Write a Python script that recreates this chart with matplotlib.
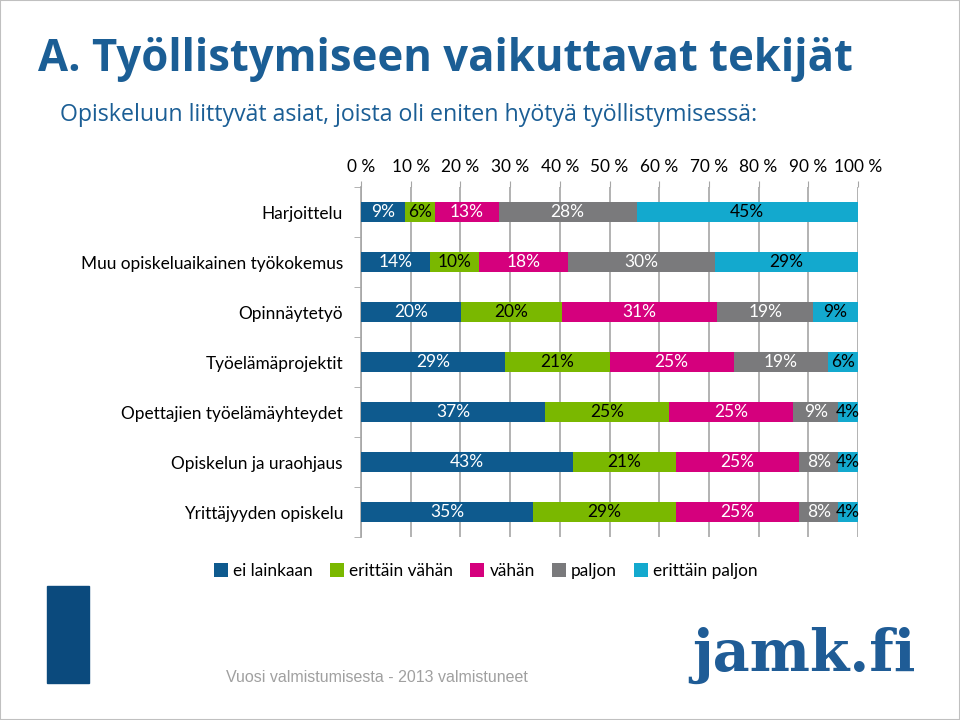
import numpy as np
import matplotlib
matplotlib.use("Agg")
import matplotlib.pyplot as plt
from matplotlib.patches import Rectangle

# categories, top to bottom
categories = ["Harjoittelu", "Muu opiskeluaikainen työkokemus", "Opinnäytetyö",
              "Työelämäprojektit", "Opettajien työelämäyhteydet",
              "Opiskelun ja uraohjaus", "Yrittäjyyden opiskelu"]
series = ["ei lainkaan", "erittäin vähän", "vähän", "paljon", "erittäin paljon"]

ei_lainkaan = [9, 14, 20, 29, 37, 43, 35]
erittain_vahan = [6, 10, 20, 21, 25, 21, 29]
vahan = [13, 18, 31, 25, 25, 25, 25]
paljon = [28, 30, 19, 19, 9, 8, 8]
erittain_paljon = [45, 29, 9, 6, 4, 4, 4]

xticks = [0, 10, 20, 30, 40, 50, 60, 70, 80, 90, 100]

colors = ["#0E5A8E", "#7AB800", "#D5007D", "#7A7A7C", "#13A9CE"]
text_colors = ["white", "black", "white", "white", "black"]

plt.rcParams['font.family'] = ['Lato', 'DejaVu Sans']

fig = plt.figure(figsize=(9.6, 7.2), dpi=100)
ax = fig.add_axes([361 / 960, 1 - 537 / 720, 497 / 960, 350 / 720])

data = np.array([ei_lainkaan, erittain_vahan, vahan, paljon, erittain_paljon], dtype=float)
shares = data / data.sum(axis=0) * 100
y = np.arange(len(categories))
left = np.zeros(len(categories))
for i, name in enumerate(series):
    ax.barh(y, shares[i], left=left, height=0.4, color=colors[i], label=name, zorder=3)
    for j in range(len(categories)):
        ax.text(left[j] + shares[i][j] / 2, y[j], "%d%%" % data[i][j],
                ha="center", va="center", fontsize=12.5, color=text_colors[i], zorder=4)
    left += shares[i]

ax.set_xlim(0, 100)
ax.set_ylim(len(categories) - 0.5, -0.5)
ax.xaxis.tick_top()
ax.set_xticks(xticks)
ax.set_xticklabels(["%d %%" % t for t in xticks], fontsize=12.4)
ax.tick_params(axis="x", length=4, color="#A6A6A6", pad=4.5)
ax.set_yticks(y)
ax.set_yticklabels(categories, fontsize=12.4)
ax.tick_params(axis="y", which="major", length=0, pad=13)
ax.set_yticks(np.arange(len(categories) + 1) - 0.5, minor=True)
ax.tick_params(axis="y", which="minor", length=5, color="#A6A6A6")
ax.grid(axis="x", color="#A6A6A6", linewidth=1.2, zorder=0)
for s in ["top", "right", "bottom"]:
    ax.spines[s].set_visible(False)
ax.spines["left"].set_color("#A6A6A6")
ax.spines["left"].set_linewidth(1.2)

# legend
handles, labels = ax.get_legend_handles_labels()
fig.legend(handles, labels, loc="center", bbox_to_anchor=(486 / 960, 1 - 571 / 720),
           ncol=5, frameon=False, fontsize=12.4, handlelength=0.8, handleheight=0.8,
           handletextpad=0.3, columnspacing=1.0)

# title and subtitle
fig.text(38 / 960, 1 - 60 / 720, "A. Työllistymiseen vaikuttavat tekijät",
         fontsize=31.4, fontweight="bold", family="Open Sans", color="#1B5E95",
         va="center", ha="left")
fig.text(60 / 960, 1 - 115 / 720, "Opiskeluun liittyvät asiat, joista oli eniten hyötyä työllistymisessä:",
         fontsize=16.7, family="Open Sans", color="#1B5E95", va="center", ha="left")

# footer
fig.patches.append(Rectangle((47 / 960, 1 - 683 / 720), 42 / 960, 97 / 720,
                             transform=fig.transFigure, color="#0B4A7D"))
fig.text(226 / 960, 1 - 677 / 720, "Vuosi valmistumisesta - 2013 valmistuneet",
         fontsize=11.5, color="#A0A0A0", family="Liberation Sans", va="center", ha="left")
fig.text(692 / 960, 1 - 655 / 720, "jamk.fi", fontsize=41, fontweight="bold",
         family="DejaVu Serif", color="#1F5C96", va="center", ha="left")

fig.patches.append(Rectangle((0, 0), 1, 1, transform=fig.transFigure,
                             fill=False, edgecolor="#C0C0C0", linewidth=1.5))

fig.savefig("out.png", dpi=100)
